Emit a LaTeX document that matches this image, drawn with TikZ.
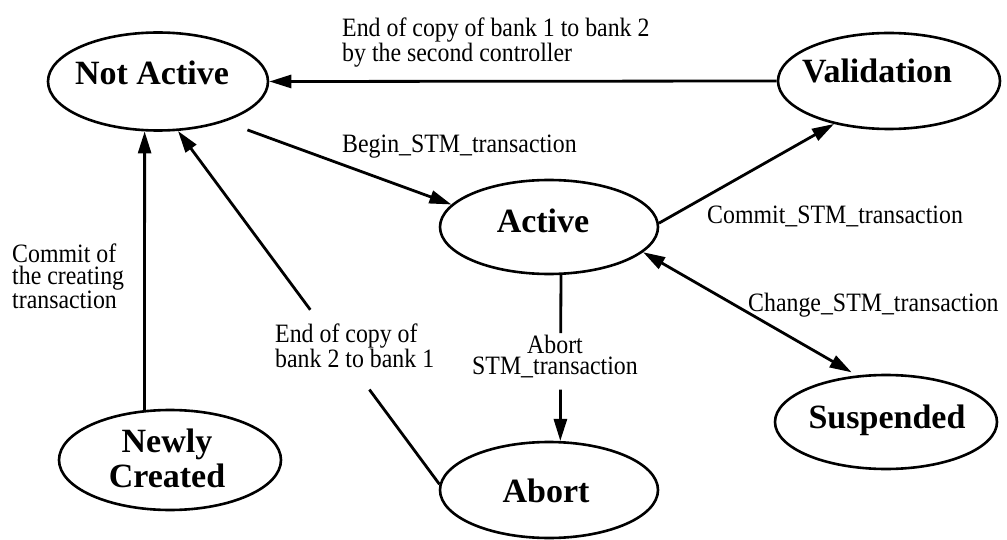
\documentclass[tikz,border=0pt]{standalone}
\usepackage{fontspec}
\setmainfont{Liberation Serif}
\newfontfamily\edgefont{Liberation Serif}[FakeStretch=0.9]
\usetikzlibrary{shapes.geometric,arrows.meta,calc}

\tikzset{
  state/.style={ellipse, draw, line width=2.6pt, inner sep=0pt},
  statetext/.style={inner sep=0pt, font=\fontsize{34}{35}\selectfont\bfseries},
  edgetext/.style={inner sep=0pt, font=\edgefont\fontsize{26.5}{21.5}\selectfont},
  trans/.style={line width=2.8pt, -{Triangle[length=22pt,width=13pt]}},
  plain/.style={line width=2.8pt},
  both/.style={line width=2.8pt, {Triangle[length=22pt,width=13pt]}-{Triangle[length=22pt,width=13pt]}}
}

\begin{document}
\begin{tikzpicture}[x=1pt,y=-1pt]
  \useasboundingbox (0,0) rectangle (1007,540);
  \fill[white] (0,0) rectangle (1007,540);

  % states
  \node[state, minimum width=220pt, minimum height=98pt] (na) at (158,81.5) {};
  \node[state, minimum width=222pt, minimum height=96pt] (va) at (889,81) {};
  \node[state, minimum width=218pt, minimum height=94pt] (ac) at (549,227) {};
  \node[state, minimum width=222pt, minimum height=94pt] (su) at (886,422) {};
  \node[state, minimum width=218pt, minimum height=96pt] (ab) at (549,490) {};
  \node[state, minimum width=222pt, minimum height=100pt] (nc) at (170,460) {};

  % state names
  \node[statetext, anchor=base] (naT) at (152,85) {Not Active};
  \node[statetext, anchor=base] (vaT) at (877,83) {Validation};
  \node[statetext, anchor=base] (acT) at (543,233) {Active};
  \node[statetext, anchor=base] (suT) at (887,428) {Suspended};
  \node[statetext, anchor=base] (abT) at (546,502) {Abort};
  \node[statetext, anchor=north, align=center] (ncT) at (167,429) {Newly\\Created};

  % transitions
  \draw[trans] (va.west) -- (na.east);
  \draw[trans, shorten <=24pt] (na.-31.4) -- (ac.167);
  \draw[trans] (ac.2) -- (va.-142.5);
  \draw[both, shorten >=6pt] (ac.-15.5) -- (su.122);
  \draw[trans] (nc.117) -- (na.-105);

  % Active -> Abort, interrupted by its label
  \coordinate (abA) at ($(ac.-76.8)!0.35!(ab.77)$);
  \coordinate (abB) at ($(ac.-76.8)!0.69!(ab.77)$);
  \draw[plain] (ac.-76.8) -- (abA);
  \draw[trans] (abB) -- (ab.77);

  % Abort -> Not Active, interrupted by its label
  \coordinate (cpA) at ($(ab.177)!0.268!(na.-68.5)$);
  \coordinate (cpB) at ($(ab.177)!0.494!(na.-68.5)$);
  \draw[plain] (ab.177) -- (cpA);
  \draw[trans] (cpB) -- (na.-68.5);

  % transition labels
  \node[edgetext, anchor=north west, align=left] (lVal) at (342,17.9)
    {End of copy of bank 1 to bank 2\\by the second controller};
  \node[edgetext, anchor=base west] (lBegin) at (342,153) {Begin\_STM\_transaction};
  \node[edgetext, anchor=base west] (lCommit) at (707,224) {Commit\_STM\_transaction};
  \node[edgetext, anchor=base west] (lChange) at (748,312) {Change\_STM\_transaction};
  \node[edgetext, anchor=north west, align=left] (lNew) at (12,243.9)
    {Commit of\\the creating\\transaction};
  \node[edgetext, anchor=north west, align=left] (lCopy) at (275,323.9)
    {End of copy of\\bank 2 to bank 1};
  \node[edgetext, anchor=north, align=center] (lAbort) at (555,334.9)
    {Abort\\STM\_transaction};
\end{tikzpicture}
\end{document}
